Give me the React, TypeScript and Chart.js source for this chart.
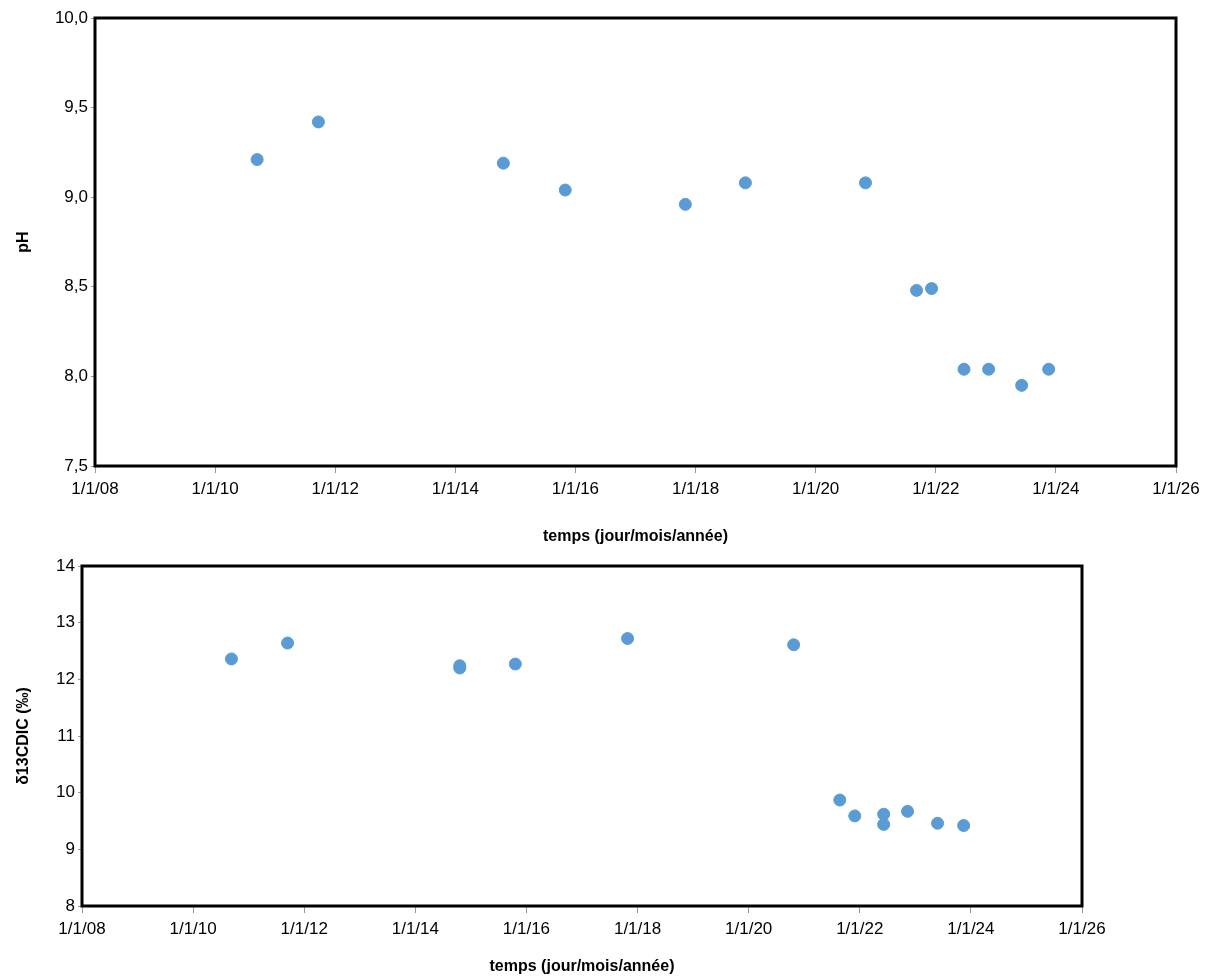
import React, { useEffect, useRef } from 'react';
import { Chart, registerables } from 'chart.js';

Chart.register(...registerables);

const phDates = [2010.7, 2011.72, 2014.8, 2015.83, 2017.83, 2018.83, 2020.83, 2021.68, 2021.93, 2022.47, 2022.88, 2023.43, 2023.88];
const phValues = [9.21, 9.42, 9.19, 9.04, 8.96, 9.08, 9.08, 8.48, 8.49, 8.04, 8.04, 7.95, 8.04];

const d13Dates = [2010.69, 2011.7, 2014.8, 2014.8, 2015.8, 2017.82, 2020.81, 2021.64, 2021.91, 2022.43, 2022.43, 2022.86, 2023.4, 2023.87];
const d13Values = [12.36, 12.64, 12.24, 12.2, 12.27, 12.72, 12.61, 9.87, 9.59, 9.62, 9.44, 9.67, 9.46, 9.42];

const FONT = "'Liberation Sans Narrow', 'Liberation Sans', Arial, sans-serif";

const borderPlugin = {
  id: 'plotBorder',
  afterDraw(chart: any) {
    const { ctx, chartArea: a } = chart;
    ctx.save();
    ctx.strokeStyle = '#000';
    ctx.lineWidth = 3;
    ctx.strokeRect(a.left, a.top, a.right - a.left, a.bottom - a.top);
    ctx.restore();
  },
};

interface PanelProps {
  xs: number[];
  ys: number[];
  yMin: number;
  yMax: number;
  yStep: number;
  yTitle: string;
  decimals: number;
  width: number;
  height: number;
  left: number;
  padTop: number;
  padRight: number;
  xAxisH: number;
}

const Panel: React.FC<PanelProps> = (p) => {
  const ref = useRef<HTMLCanvasElement>(null);
  useEffect(() => {
    if (!ref.current) return;
    const chart = new Chart(ref.current, {
      type: 'scatter',
      data: {
        datasets: [{
          data: p.xs.map((x, i) => ({ x, y: p.ys[i] })),
          backgroundColor: '#5b9bd5',
          borderColor: '#5b9bd5',
          pointRadius: 6,
        }],
      },
      options: {
        animation: false,
        responsive: false,
        layout: { padding: { top: p.padTop, right: p.padRight, left: 10, bottom: 0 } },
        plugins: { legend: { display: false }, tooltip: { enabled: false } },
        scales: {
          x: {
            type: 'linear', min: 2008, max: 2026,
            afterFit: (s: any) => { s.height = p.xAxisH; },
            ticks: {
              stepSize: 2, color: '#000', font: { family: FONT, size: 17 }, maxRotation: 0, padding: 6,
              callback: (v: any) => '1/1/' + String(Number(v) - 2000).padStart(2, '0'),
            },
            grid: { display: true, drawOnChartArea: false, tickLength: 7, tickColor: '#999' },
            border: { display: false },
            title: { display: true, text: 'temps (jour/mois/année)', color: '#000', font: { family: FONT, size: 16, weight: 'bold' }, padding: { top: 12 } },
          },
          y: {
            min: p.yMin, max: p.yMax,
            afterFit: (s: any) => { s.width = p.left - 10; },
            ticks: {
              stepSize: p.yStep, color: '#000', font: { family: FONT, size: 17 },
              callback: (v: any) => Number(v).toFixed(p.decimals).replace('.', ','),
            },
            grid: { display: true, drawOnChartArea: false, tickLength: 4, tickColor: '#999' },
            border: { display: false },
            title: { display: true, text: p.yTitle, color: '#000', font: { family: FONT, size: 16, weight: 'bold' } },
          },
        },
      },
      plugins: [borderPlugin],
    });
    return () => chart.destroy();
  }, []);
  return <canvas ref={ref} width={p.width} height={p.height} style={{ display: 'block' }} />;
};

export default function App() {
  return (
    <div style={{ position: 'absolute', left: 0, top: 0, width: 1213, height: 980, background: '#fff' }}>
      <Panel xs={phDates} ys={phValues} yMin={7.5} yMax={10} yStep={0.5} yTitle="pH" decimals={1}
        width={1213} height={550} left={95} padTop={18} padRight={37} xAxisH={84} />
      <Panel xs={d13Dates} ys={d13Values} yMin={8} yMax={14} yStep={1} yTitle="δ13CDIC (‰)" decimals={0}
        width={1213} height={430} left={82} padTop={16} padRight={131} xAxisH={74} />
    </div>
  );
}
